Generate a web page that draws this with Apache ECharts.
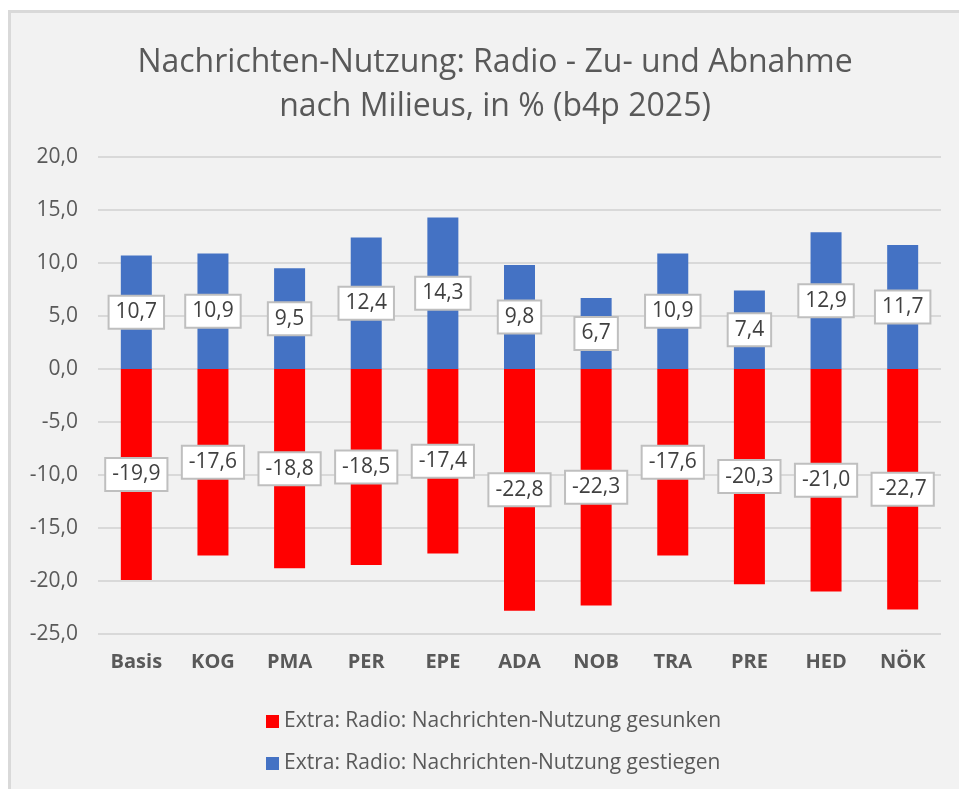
<!DOCTYPE html>
<html>
<head>
<meta charset="utf-8">
<script src="https://cdn.jsdelivr.net/npm/echarts@6/dist/echarts.min.js"></script>
<style>
  html,body{margin:0;padding:0;background:#fff;}
  #main{width:959px;height:789px;}
</style>
</head>
<body>
<div id="main"></div>
<script>
var categories=['Basis','KOG','PMA','PER','EPE','ADA','NOB','TRA','PRE','HED','NÖK'];
var gesunken=[-19.9,-17.6,-18.8,-18.5,-17.4,-22.8,-22.3,-17.6,-20.3,-21.0,-22.7];
var gestiegen=[10.7,10.9,9.5,12.4,14.3,9.8,6.7,10.9,7.4,12.9,11.7];
var seriesNames=['Extra: Radio: Nachrichten-Nutzung gesunken','Extra: Radio: Nachrichten-Nutzung gestiegen'];

var fmt=function(v){return Number(v).toFixed(1).replace('.',',');};
var font='"Open Sans", "Liberation Sans", sans-serif';

var boxLabel={
  show:true,
  position:'inside',
  formatter:function(p){return fmt(p.value);},
  color:'#404040',
  fontSize:21,
  fontFamily:font,
  backgroundColor:'#ffffff',
  borderColor:'#bfbfbf',
  borderWidth:2,
  padding:[6,6,4,6]
};

var myChart=echarts.init(document.getElementById('main'));
var option={
  backgroundColor:'#ffffff',
  animation:false,
  graphic:[{
    type:'rect',
    z:-10,
    shape:{x:9.5,y:11.5,width:960,height:790},
    style:{fill:'#f2f2f2',stroke:'#d9d9d9',lineWidth:3}
  }],
  title:{
    text:'Nachrichten-Nutzung: Radio - Zu- und Abnahme\nnach Milieus, in % (b4p 2025)',
    left:490,
    textAlign:'center',
    top:36,
    textStyle:{
      color:'#595959',
      fontSize:32,
      fontWeight:'normal',
      fontFamily:font,
      lineHeight:44
    }
  },
  legend:{
    orient:'vertical',
    left:261,
    top:706,
    itemWidth:13,
    itemHeight:13,
    itemGap:21,
    icon:'rect',
    textStyle:{color:'#595959',fontSize:21,fontFamily:font}
  },
  grid:{left:98,right:18,top:157,bottom:155},
  xAxis:{
    type:'category',
    data:categories,
    axisLine:{show:false},
    axisTick:{show:false},
    axisLabel:{color:'#595959',fontSize:20,fontWeight:'bold',fontFamily:font,margin:18}
  },
  yAxis:{
    type:'value',
    min:-25,
    max:20,
    interval:5,
    axisLine:{show:false},
    axisTick:{show:false},
    axisLabel:{color:'#595959',fontSize:21,fontFamily:font,margin:20,formatter:fmt},
    splitLine:{lineStyle:{color:'#d9d9d9',width:2}}
  },
  series:[{
    name:seriesNames[0],
    type:'bar',
    stack:'total',
    barWidth:31,
    itemStyle:{color:'#ff0000'},
    label:boxLabel,
    data:gesunken
  },{
    name:seriesNames[1],
    type:'bar',
    stack:'total',
    barWidth:31,
    itemStyle:{color:'#4472c4'},
    label:boxLabel,
    data:gestiegen
  }]
};
myChart.setOption(option);
</script>
</body>
</html>
